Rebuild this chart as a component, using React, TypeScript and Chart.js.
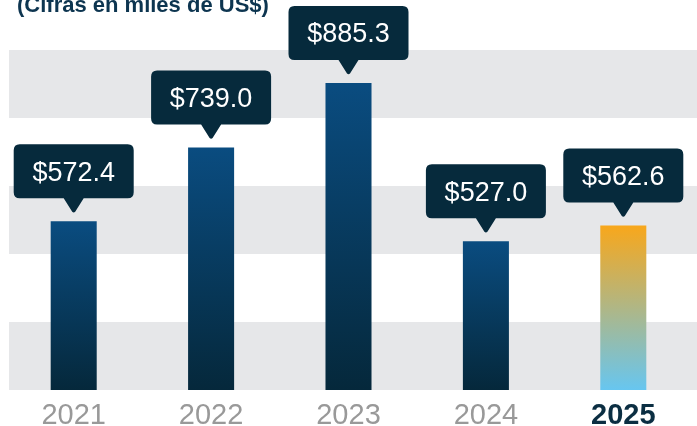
import React, { useEffect, useRef } from 'react';
import { Chart, registerables } from 'chart.js';

Chart.register(...registerables);

const categories = ['2021', '2022', '2023', '2024', '2025'];
const values = [572.4, 739.0, 885.3, 527.0, 562.6];
const valueLabels = ['$572.4', '$739.0', '$885.3', '$527.0', '$562.6'];
const titleText = '(Cifras en miles de US$)';

const FONT = '"Liberation Sans", Arial, sans-serif';
const NAVY = '#062a3c';
const BAND = '#e6e7e9';

const bandsPlugin = {
  id: 'bands',
  beforeDraw(chart: any) {
    const { ctx, chartArea, width } = chart;
    const n = 5;
    const h = (chartArea.bottom - chartArea.top) / n;
    ctx.save();
    ctx.fillStyle = BAND;
    for (let i = 0; i < n; i += 2) {
      ctx.fillRect(9, chartArea.top + i * h, width - 9, h);
    }
    ctx.restore();
  },
};

const calloutPlugin = {
  id: 'callouts',
  afterDatasetsDraw(chart: any) {
    const { ctx } = chart;
    const meta = chart.getDatasetMeta(0);
    ctx.save();
    meta.data.forEach((el: any, i: number) => {
      const cx = el.x;
      const tipY = el.y - 8;
      const triH = 15;
      const triHalf = 10;
      const bw = 120;
      const bh = 54;
      const bBottom = tipY - triH;
      const bTop = bBottom - bh;
      const bLeft = cx - bw / 2;
      const r = 6;
      ctx.fillStyle = NAVY;
      ctx.beginPath();
      ctx.moveTo(bLeft + r, bTop);
      ctx.lineTo(bLeft + bw - r, bTop);
      ctx.quadraticCurveTo(bLeft + bw, bTop, bLeft + bw, bTop + r);
      ctx.lineTo(bLeft + bw, bBottom - r);
      ctx.quadraticCurveTo(bLeft + bw, bBottom, bLeft + bw - r, bBottom);
      ctx.lineTo(cx + triHalf, bBottom);
      ctx.lineTo(cx + 1.5, tipY - 1.5);
      ctx.quadraticCurveTo(cx, tipY, cx - 1.5, tipY - 1.5);
      ctx.lineTo(cx - triHalf, bBottom);
      ctx.lineTo(bLeft + r, bBottom);
      ctx.quadraticCurveTo(bLeft, bBottom, bLeft, bBottom - r);
      ctx.lineTo(bLeft, bTop + r);
      ctx.quadraticCurveTo(bLeft, bTop, bLeft + r, bTop);
      ctx.closePath();
      ctx.fill();
      ctx.fillStyle = '#ffffff';
      ctx.font = `27px ${FONT}`;
      ctx.textAlign = 'center';
      ctx.textBaseline = 'alphabetic';
      ctx.fillText(valueLabels[i], cx, bTop + bh / 2 + 9.5);
    });
    ctx.restore();
  },
};

const titlePlugin = {
  id: 'topTitle',
  afterDraw(chart: any) {
    const { ctx } = chart;
    ctx.save();
    ctx.fillStyle = '#0d3550';
    ctx.font = `bold 22px ${FONT}`;
    ctx.textAlign = 'left';
    ctx.textBaseline = 'alphabetic';
    ctx.fillText(titleText, 17, 12);
    ctx.restore();
  },
};

export default function App() {
  const ref = useRef<HTMLCanvasElement | null>(null);
  useEffect(() => {
    if (!ref.current) return;
    const chart = new Chart(ref.current, {
      type: 'bar',
      data: {
        labels: categories,
        datasets: [
          {
            data: values,
            barPercentage: 0.335,
            categoryPercentage: 1.0,
            borderWidth: 0,
            backgroundColor: (c: any) => {
              const ch = c.chart;
              const y = ch.scales && ch.scales.y;
              if (!y || !ch.chartArea || c.type !== 'data') return '#0a4c80';
              const top = y.getPixelForValue(values[c.dataIndex]);
              const bottom = y.getPixelForValue(y.min);
              const g = ch.ctx.createLinearGradient(0, top, 0, bottom);
              if (c.dataIndex === values.length - 1) {
                g.addColorStop(0, '#f8a71b');
                g.addColorStop(1, '#67c6f0');
              } else {
                g.addColorStop(0, '#0a4c80');
                g.addColorStop(1, '#05283b');
              }
              return g;
            },
          },
        ],
      },
      options: {
        animation: false,
        responsive: true,
        maintainAspectRatio: false,
        layout: { padding: { left: 5, right: 5, top: 50, bottom: 0 } },
        plugins: {
          legend: { display: false },
          tooltip: { enabled: false },
          title: { display: false },
        },
        scales: {
          x: {
            grid: { display: false },
            border: { display: false },
            ticks: {
              padding: 1,
              color: (c: any) => (c.index === 4 ? '#0b2e42' : '#999999'),
              font: (c: any) => ({
                family: FONT,
                size: 29,
                weight: c.index === 4 ? 'bold' : 'normal',
              }),
            },
            afterFit: (s: any) => {
              s.height = 36;
            },
          },
          y: {
            display: false,
            min: 190,
            max: 960,
          },
        },
      },
      plugins: [bandsPlugin, calloutPlugin, titlePlugin],
    });
    return () => chart.destroy();
  }, []);
  return (
    <div style={{ position: 'absolute', left: 0, top: 0, width: 697, height: 426 }}>
      <canvas ref={ref} />
    </div>
  );
}
